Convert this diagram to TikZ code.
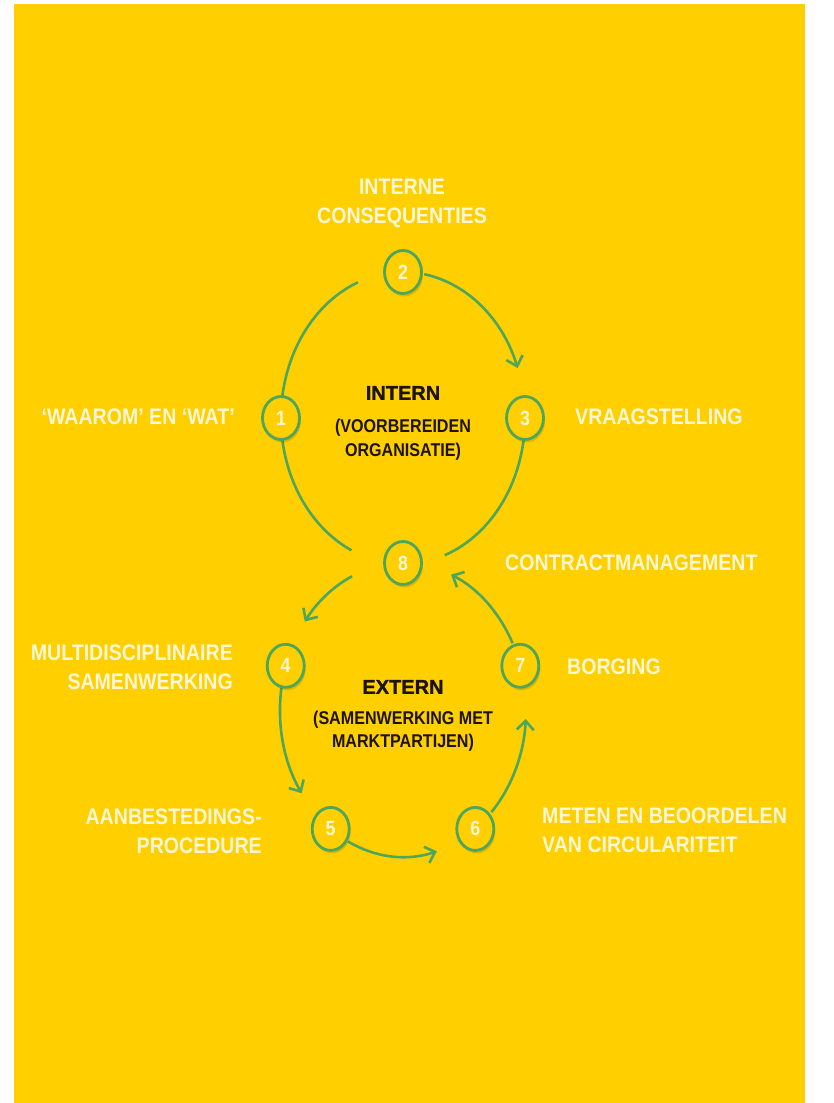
\documentclass[tikz,border=0pt]{standalone}
\usepackage{fontspec}
\newfontfamily\labfont[FakeStretch=0.87]{Liberation Sans}
\newfontfamily\ttlfont[FakeStretch=1.0,FakeBold=1.2]{Liberation Sans}
\usetikzlibrary{shapes.geometric,arrows.meta,shadows}
\definecolor{bgyellow}{RGB}{255,207,0}
\definecolor{loopgreen}{RGB}{78,166,92}
\definecolor{labwhite}{RGB}{255,247,214}
\definecolor{darktext}{RGB}{28,20,8}
\begin{document}
\begin{tikzpicture}[x=1pt,y=1pt,
  lab/.style={text=labwhite, font=\labfont\bfseries\fontsize{22.5}{29}\selectfont, inner sep=0pt},
  num/.style={ellipse, draw=loopgreen, line width=2.8pt, fill=bgyellow,
    minimum width=37pt, minimum height=43pt, inner sep=0pt, text=labwhite,
    font=\labfont\bfseries\fontsize{20.5}{22}\selectfont,
    drop shadow={shadow xshift=1.5pt, shadow yshift=-3pt, opacity=0.12, fill=black}},
  loopline/.style={draw=loopgreen, line width=2.6pt},
  tip/.style={-{Straight Barb[length=9pt,width=17pt]}},
  topell/.style={x radius=122pt, y radius=146pt},
  botell/.style={x radius=123pt, y radius=147pt},
  ttl/.style={text=darktext, font=\ttlfont\bfseries\fontsize{20}{24}\selectfont, inner sep=0pt},
  sub/.style={text=darktext, align=center, inner sep=0pt}
]
\fill[white] (0,0) rectangle (833,1103);
\fill[bgyellow] (14,0) rectangle (805,1099);
\useasboundingbox (0,0) rectangle (833,1103);

\coordinate (ctop) at (403,685);
\coordinate (cbot) at (403,393);

% arc start points
\coordinate (s21) at ([shift={(111.7:122pt and 146pt)}]ctop);
\coordinate (s23) at ([shift={(80:122pt and 146pt)}]ctop);
\coordinate (s38) at ([shift={(0:122pt and 146pt)}]ctop);
\coordinate (s84) at ([shift={(114.5:123pt and 147pt)}]cbot);
\coordinate (s45) at ([shift={(162.5:123pt and 147pt)}]cbot);
\coordinate (s56) at ([shift={(243.5:123pt and 147pt)}]cbot);
\coordinate (s67) at ([shift={(316:123pt and 147pt)}]cbot);
\coordinate (s78) at ([shift={(27:123pt and 147pt)}]cbot);

% upper loop
\draw[loopline] (s21) arc[topell, start angle=111.7, end angle=245];
\draw[loopline, tip] (s23) arc[topell, start angle=80, end angle=20];
\draw[loopline] (s38) arc[topell, start angle=0, end angle=-70];
% lower loop
\draw[loopline, tip] (s84) arc[botell, start angle=114.5, end angle=143];
\draw[loopline, tip] (s45) arc[botell, start angle=162.5, end angle=214.5];
\draw[loopline, tip] (s56) arc[botell, start angle=243.5, end angle=286];
\draw[loopline, tip] (s67) arc[botell, start angle=316, end angle=356.5];
\draw[loopline, tip] (s78) arc[botell, start angle=27, end angle=67];

% numbered circles
\node[num] (n1) at ([shift={(180:122pt and 146pt)}]ctop) {1};
\node[num] (n2) at ([shift={(90:122pt and 146pt)}]ctop) {2};
\node[num] (n3) at ([shift={(0:122pt and 146pt)}]ctop) {3};
\node[num] (n8) at ([shift={(90:123pt and 147pt)}]cbot) {8};
\node[num] (n4) at ([shift={(162.5:123pt and 147pt)}]cbot) {4};
\node[num] (n5) at ([shift={(234:123pt and 147pt)}]cbot) {5};
\node[num] (n6) at ([shift={(306:123pt and 147pt)}]cbot) {6};
\node[num] (n7) at ([shift={(17.5:123pt and 147pt)}]cbot) {7};

% centre texts
\node[ttl] (intern) at (403,710) {INTERN};
\node[sub, font=\labfont\bfseries\fontsize{18.5}{24}\selectfont] (internsub) at (403,663) {(VOORBEREIDEN\\ORGANISATIE)};
\node[ttl] (extern) at (403,416) {EXTERN};
\node[sub, font=\labfont\bfseries\fontsize{18.5}{23}\selectfont] (externsub) at (403,371.5) {(SAMENWERKING MET\\MARKTPARTIJEN)};

% labels
\node[lab, align=center] (l2) at (402,900) {INTERNE\\CONSEQUENTIES};
\node[lab, anchor=east] (l1) at (235,686) {‘WAAROM’ EN ‘WAT’};
\node[lab, anchor=west] (l3) at (575,686) {VRAAGSTELLING};
\node[lab, anchor=west] (l8) at (505,540) {CONTRACTMANAGEMENT};
\node[lab, anchor=west] (l7) at (567,436) {BORGING};
\node[lab, anchor=west, align=left] (l6) at (542,272.5) {METEN EN BEOORDELEN\\VAN CIRCULARITEIT};
\node[lab, anchor=east, align=right] (l4) at (233,436) {MULTIDISCIPLINAIRE\\SAMENWERKING};
\node[lab, anchor=east, align=right] (l5) at (262,272) {AANBESTEDINGS-\\PROCEDURE};
\end{tikzpicture}
\end{document}
